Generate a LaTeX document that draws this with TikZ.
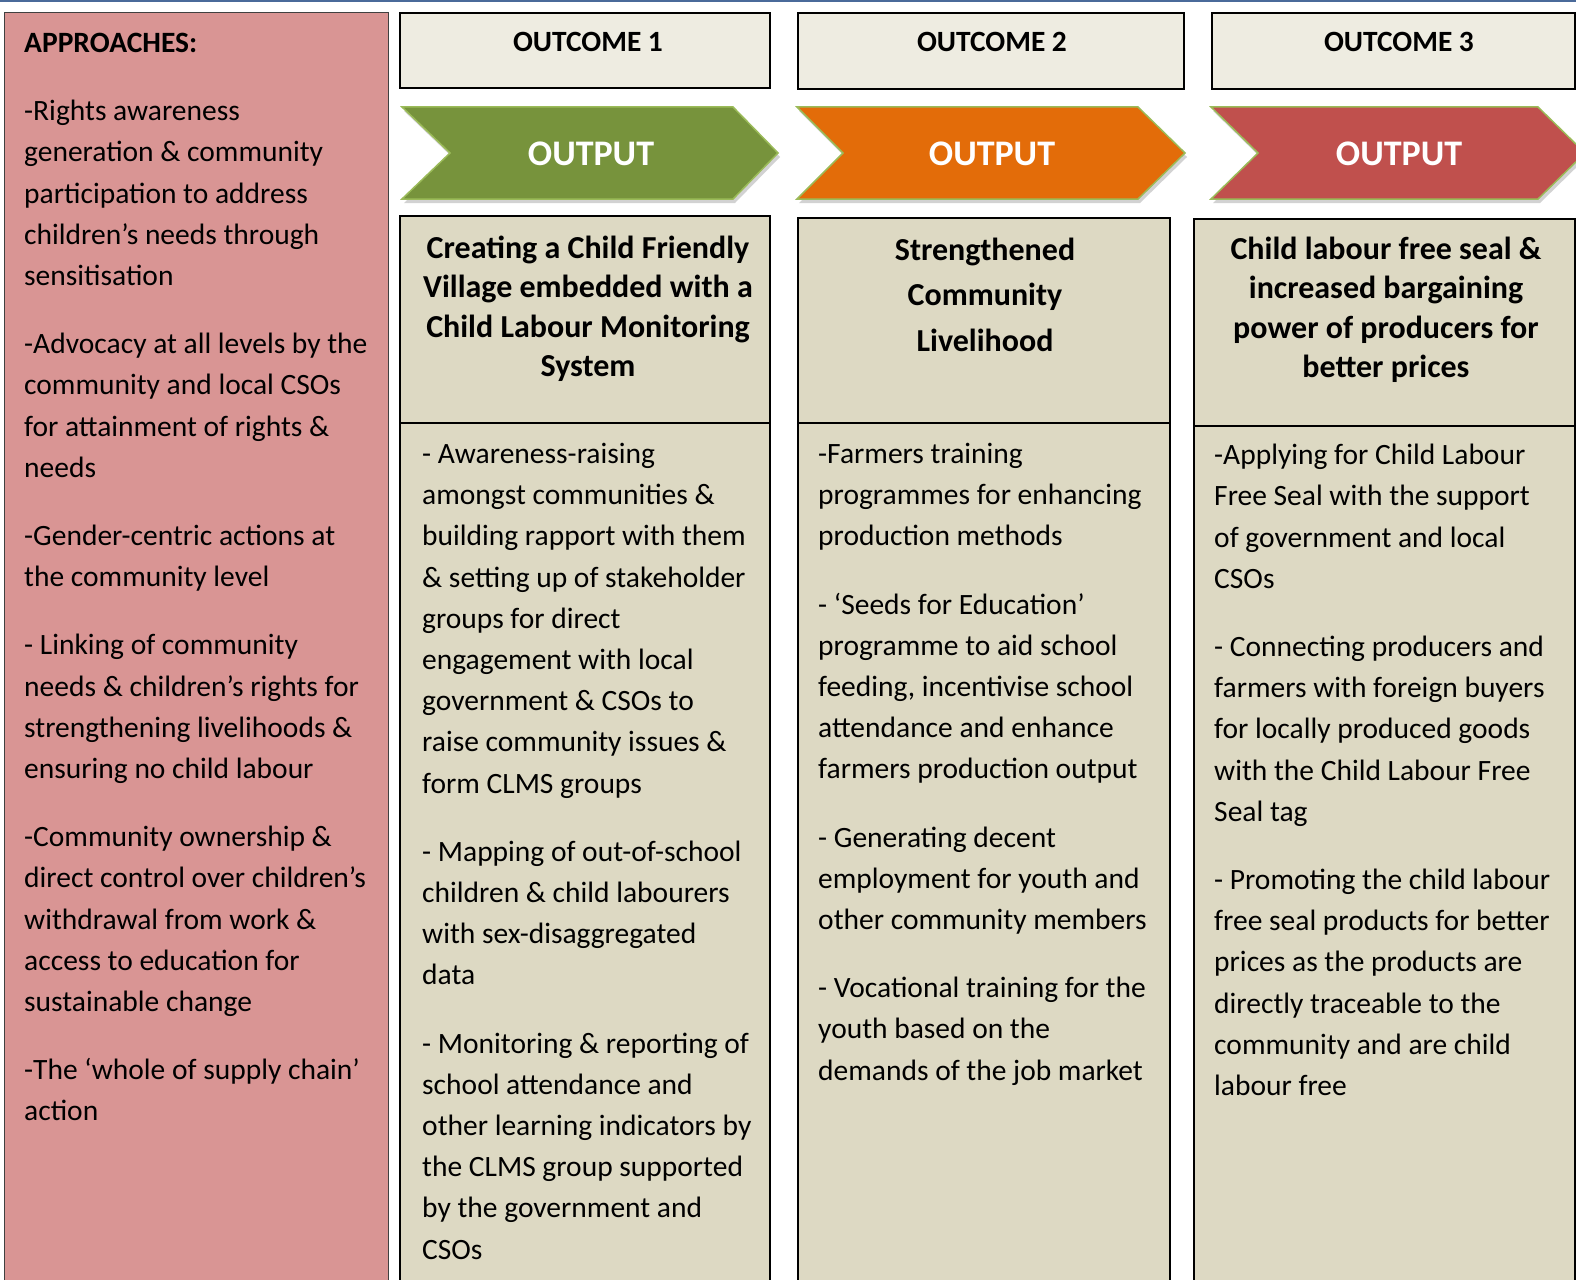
\documentclass[tikz,border=0pt]{standalone}
\usepackage{fontspec}
\setmainfont{Carlito}
\usetikzlibrary{shadows}

\definecolor{topblue}{HTML}{4A6A9A}
\definecolor{approachred}{HTML}{D99594}
\definecolor{outcomegrey}{HTML}{EEECE1}
\definecolor{outputtan}{HTML}{DDD9C3}
\definecolor{arrowgreen}{HTML}{77933C}
\definecolor{arroworange}{HTML}{E36C09}
\definecolor{arrowred}{HTML}{C0504D}
\definecolor{arrowrim}{HTML}{9BBB59}

\tikzset{
  bodytext/.style={anchor=north west, inner sep=0pt, align=left,
    font=\fontsize{29.5}{41.2}\selectfont},
  headtext/.style={anchor=north, inner sep=0pt, align=center,
    font=\bfseries\fontsize{32}{39.2}\selectfont},
  outcometext/.style={inner sep=0pt, font=\bfseries\fontsize{29.4}{32}\selectfont},
  outputtext/.style={inner sep=0pt, text=white, font=\bfseries\fontsize{36}{40}\selectfont},
  boxline/.style={draw=black, line width=1.5pt},
  chevron/.style={draw=arrowrim, line width=1.5pt,
    drop shadow={shadow xshift=2pt, shadow yshift=-4pt, opacity=0.35}},
}

\begin{document}
\begin{tikzpicture}[x=1pt, y=-1pt]
  \clip (0,0) rectangle (1576,1279);
  \fill[white] (0,0) rectangle (1576,1279);
  \fill[topblue] (0,0) rectangle (1576,2);

  % approaches column
  \filldraw[fill=approachred, draw=black!75, line width=1pt] (4,13) rectangle (388,1300);
  \node[bodytext] (approaches) at (24,33) {\textbf{APPROACHES:}\\[27pt]
    -Rights awareness\\ generation \& community\\ participation to address\\
    children’s needs through\\ sensitisation\\[27pt]
    -Advocacy at all levels by the\\ community and local CSOs\\
    for attainment of rights \&\\ needs\\[27pt]
    -Gender-centric actions at\\ the community level\\[27pt]
    - Linking of community\\ needs \& children’s rights for\\
    strengthening livelihoods \&\\ ensuring no child labour\\[27pt]
    -Community ownership \&\\ direct control over children’s\\
    withdrawal from work \&\\ access to education for\\ sustainable change\\[27pt]
    -The ‘whole of supply chain’\\ action};

  % outcome boxes
  \filldraw[boxline, fill=outcomegrey] (400,13) rectangle (770,88);
  \filldraw[boxline, fill=outcomegrey] (798,13) rectangle (1184,89);
  \filldraw[boxline, fill=outcomegrey] (1212,13) rectangle (1575,89);
  \node[outcometext] (outcome1) at (588,42) {OUTCOME 1};
  \node[outcometext] (outcome2) at (992,42) {OUTCOME 2};
  \node[outcometext] (outcome3) at (1399,42) {OUTCOME 3};

  % output chevrons
  \foreach \l/\n/\t/\r/\c/\m [count=\i] in
      {402/450/733/778/arrowgreen/591, 797/843/1138/1185/arroworange/992,
       1211/1258/1538/1585/arrowred/1399}{
    \fill[chevron, fill=\c] (\l,107) -- (\t,107) -- (\r,153) -- (\t,199)
      -- (\l,199) -- (\n,153) -- cycle;
    \node[outputtext] (output\i) at (\m,154) {OUTPUT};
  }

  % output boxes
  \filldraw[boxline, fill=outputtan] (400,216) rectangle (770,1300);
  \draw[boxline] (400,423) -- (770,423);
  \filldraw[boxline, fill=outputtan] (798,218) rectangle (1170,1300);
  \draw[boxline] (798,423) -- (1170,423);
  \filldraw[boxline, fill=outputtan] (1194,219) rectangle (1575,1300);
  \draw[boxline] (1194,426) -- (1575,426);

  \node[headtext] (head1) at (588,236) {Creating a Child Friendly\\
    Village embedded with a\\ Child Labour Monitoring\\ System};
  \node[headtext, font=\bfseries\fontsize{32}{45.2}\selectfont] (head2) at (985,238)
    {Strengthened\\ Community\\ Livelihood};
  \node[headtext] (head3) at (1386,237) {Child labour free seal \&\\
    increased bargaining\\ power of producers for\\ better prices};

  \node[bodytext] (body1) at (422,443) {- Awareness-raising\\
    amongst communities \&\\ building rapport with them\\
    \& setting up of stakeholder\\ groups for direct\\
    engagement with local\\ government \& CSOs to\\
    raise community issues \&\\ form CLMS groups\\[27pt]
    - Mapping of out-of-school\\ children \& child labourers\\
    with sex-disaggregated\\ data\\[27pt]
    - Monitoring \& reporting of\\ school attendance and\\
    other learning indicators by\\ the CLMS group supported\\
    by the government and\\ CSOs};
  \node[bodytext] (body2) at (818,443) {-Farmers training\\
    programmes for enhancing\\ production methods\\[27pt]
    - ‘Seeds for Education’\\ programme to aid school\\
    feeding, incentivise school\\ attendance and enhance\\
    farmers production output\\[27pt]
    - Generating decent\\ employment for youth and\\
    other community members\\[27pt]
    - Vocational training for the\\ youth based on the\\
    demands of the job market};
  \node[bodytext] (body3) at (1214,444) {-Applying for Child Labour\\
    Free Seal with the support\\ of government and local\\ CSOs\\[27pt]
    - Connecting producers and\\ farmers with foreign buyers\\
    for locally produced goods\\ with the Child Labour Free\\ Seal tag\\[27pt]
    - Promoting the child labour\\ free seal products for better\\
    prices as the products are\\ directly traceable to the\\
    community and are child\\ labour free};
\end{tikzpicture}
\end{document}
